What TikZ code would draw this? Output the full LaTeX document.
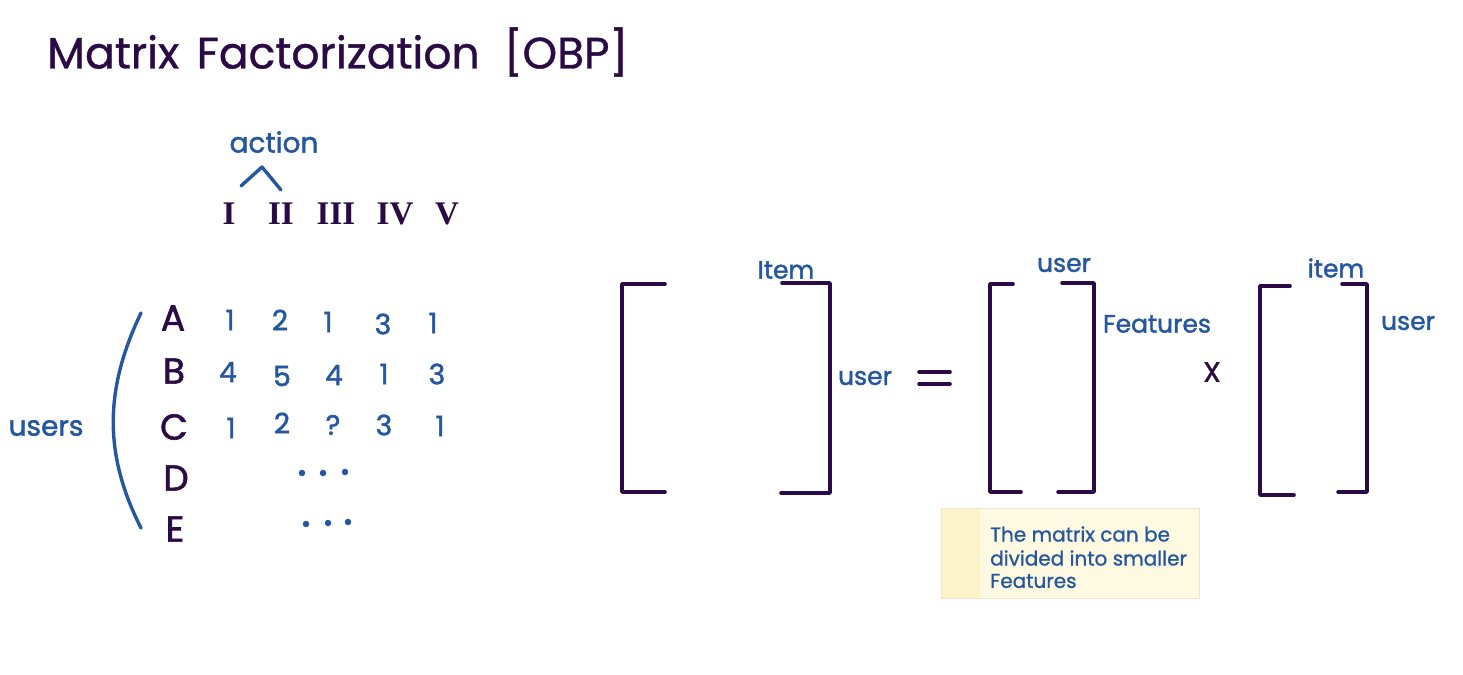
\documentclass[tikz,border=0pt]{standalone}
\usepackage{fontspec}
\setmainfont{Poppins}
\newfontfamily\hand[FakeBold=1.6]{Poppins}
\newfontfamily\handthin[FakeBold=0.9]{Poppins}
\newfontfamily\romanfont{Liberation Serif}
\definecolor{ink}{HTML}{2B0B45}
\definecolor{pen}{HTML}{2556A0}
\definecolor{notebg}{HTML}{FEF9E1}
\definecolor{notestrip}{HTML}{FCF3C9}
\definecolor{noteedge}{HTML}{ECE6CC}
\tikzset{
  title/.style={text=ink, font=\handthin\fontsize{44}{50}\selectfont, anchor=west, inner sep=0pt},
  bluelabel/.style={text=pen, font=\hand\fontsize{25}{30}\selectfont, inner sep=0pt},
  biglabel/.style={text=pen, font=\hand\fontsize{28}{32}\selectfont, inner sep=0pt},
  num/.style={text=pen, font=\hand\fontsize{28}{32}\selectfont, inner sep=0pt},
  rowlab/.style={text=ink, font=\hand\fontsize{36}{40}\selectfont, inner sep=0pt},
  roman/.style={text=ink, font=\romanfont\bfseries\fontsize{33}{36}\selectfont, inner sep=0pt},
  bracket/.style={draw=ink, line width=3.6pt, line cap=round, line join=round},
  penline/.style={draw=pen, line width=3.4pt, line cap=round, line join=round},
  notetext/.style={text=pen, font=\handthin\fontsize{20}{24}\selectfont, inner sep=0pt, anchor=west},
  dot/.style={circle, fill=pen, inner sep=0pt, minimum size=6.5pt},
}
\begin{document}
\begin{tikzpicture}[x=1pt,y=-1pt]
\useasboundingbox (0,0) rectangle (1463,674);
% title
\node[title] (t) at (47,52) {Matrix\hspace{0.4em}Factorization\hspace{0.55em}[OBP]};
% action + caret
\node[biglabel] (act) at (274,142) {action};
\draw[penline] (241,186) -- (262,167) -- (281,190);
% roman numerals
\node[roman] (r1) at (229,214) {I};
\node[roman] (r2) at (281,214) {II};
\node[roman] (r3) at (336,214) {III};
\node[roman] (r4) at (395,214) {IV};
\node[roman] (r5) at (447,214) {V};
% row labels
\node[rowlab] (ra) at (173,318) {A};
\node[rowlab] (rb) at (174,371) {B};
\node[rowlab] (rc) at (174,427) {C};
\node[rowlab] (rd) at (176,478) {D};
\node[rowlab] (re) at (175,529) {E};
% values
\node[num] (a1) at (230,320) {1};
\node[num] (a2) at (280,320) {2};
\node[num] (a3) at (328,322) {1};
\node[num] (a4) at (383,324) {3};
\node[num] (a5) at (433,323) {1};
\node[num] (b1) at (228,372) {4};
\node[num] (b2) at (282,376) {5};
\node[num] (b3) at (334,375) {4};
\node[num] (b4) at (384,374) {1};
\node[num] (b5) at (437,374) {3};
\node[num] (c1) at (231,428) {1};
\node[num] (c2) at (282,423) {2};
\node[num] (c3) at (333,425) {?};
\node[num] (c4) at (384,425) {3};
\node[num] (c5) at (440,426) {1};
\node[dot] (d1) at (302,473) {};
\node[dot] (d2) at (323,473) {};
\node[dot] (d3) at (345,472) {};
\node[dot] (e1) at (306,524) {};
\node[dot] (e2) at (328,523) {};
\node[dot] (e3) at (348,522) {};
% users + arc
\node[biglabel] (users) at (46,428) {users};
\draw[penline] (141,313) .. controls (104,390) and (104,455) .. (141,528);
% matrix 1
\draw[bracket] (665,284) -- (622,284) -- (622,492) -- (665,492);
\draw[bracket] (782,283) -- (830,283) -- (830,493) -- (781,493);
\node[bluelabel] (item1) at (786,270) {Item};
\node[bluelabel] (user1) at (865,378) {user};
% equals
\draw[bracket] (919,372) -- (950,372);
\draw[bracket] (919,384) -- (950,384);
% matrix 2
\draw[bracket] (1013,284) -- (990,284) -- (990,492) -- (1021,492);
\draw[bracket] (1062,283) -- (1094,283) -- (1094,492) -- (1058,492);
\node[bluelabel] (user2) at (1064,265) {user};
\node[bluelabel] (feat) at (1157,324) {Features};
% times
\node[text=ink, font=\hand\fontsize{28}{32}\selectfont, inner sep=0pt] (x) at (1212,372) {X};
% matrix 3
\draw[bracket] (1290,286) -- (1260,286) -- (1260,495) -- (1294,495);
\draw[bracket] (1342,284) -- (1367,284) -- (1367,492) -- (1338,492);
\node[bluelabel] (item3) at (1336,268) {item};
\node[bluelabel] (user3) at (1408,323) {user};
% sticky note
\fill[notebg] (941,508) rectangle (1199,598);
\fill[notestrip] (941,508) rectangle (980,598);
\draw[noteedge, line width=1pt] (941,508) rectangle (1199,598);
\node[notetext] (n1) at (990,534) {The matrix can be};
\node[notetext] (n2) at (990,558) {divided into smaller};
\node[notetext] (n3) at (990,581) {Features};
\end{tikzpicture}
\end{document}
